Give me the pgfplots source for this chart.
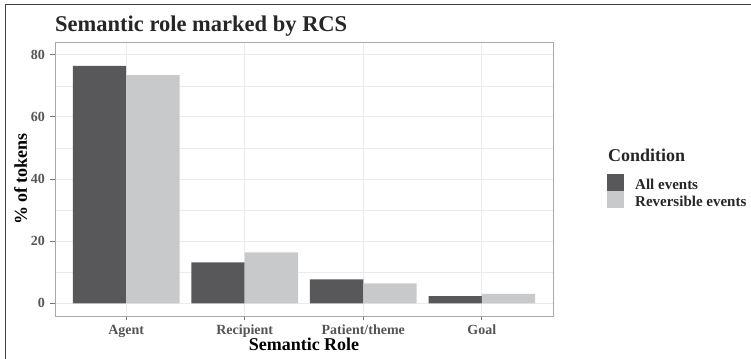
\documentclass[border=0pt]{standalone}
\usepackage{pgfplots}
\pgfplotsset{compat=1.18}
\usepackage{fontspec}
\setmainfont{Liberation Serif}
\definecolor{darkbar}{HTML}{58585A}
\definecolor{lightbar}{HTML}{C8C9CB}
\definecolor{tickgray}{HTML}{555555}
\definecolor{gridgray}{HTML}{EBEBEB}
\definecolor{panelgray}{HTML}{A8A8A8}
\begin{document}
\begin{tikzpicture}
\useasboundingbox (0bp,0bp) rectangle (751bp,359bp);
\draw[line width=1.5bp, color=black!75] (5.5bp,0bp) -- (5.5bp,354.5bp) -- (751bp,354.5bp);
\node[anchor=base west, font=\bfseries\fontsize{22.5bp}{26bp}\selectfont, text=black!85, inner sep=0pt] at (55bp,327bp) {Semantic role marked by RCS};
\node[anchor=base west, font=\bfseries\fontsize{18bp}{21bp}\selectfont, text=black!85, inner sep=0pt] at (608bp,197bp) {Condition};
\begin{axis}[
  at={(55bp,43bp)}, anchor=south west,
  scale only axis, width=498bp, height=274bp,
  xmin=0.4, xmax=4.6, ymin=-4.1, ymax=84.1,
  ybar=0pt, bar width=0.45,
  xtick={1,2,3,4},
  xticklabels={Agent, Recipient, Patient/theme, Goal},
  ytick={0,20,40,60,80},
  minor ytick={10,30,50,70},
  grid=both,
  major grid style={gridgray, line width=0.9bp},
  minor grid style={gridgray, line width=0.5bp},
  axis line style={panelgray, line width=0.8bp},
  tick align=outside,
  major tick length=4.5bp, minor tick length=0pt,
  every tick/.style={color=black!55, line width=0.9bp},
  xtick pos=bottom, ytick pos=left,
  /pgf/number format/assume math mode=true,
  ticklabel style={font=\bfseries\fontsize{14bp}{16bp}\selectfont, text=tickgray},
  yticklabel style={anchor=east, inner sep=0pt, xshift=-5.5bp},
  xticklabel style={anchor=base, inner sep=0pt, yshift=-13.5bp},
  xlabel={Semantic Role},
  ylabel={\% of tokens},
  label style={font=\bfseries\fontsize{18bp}{21bp}\selectfont, text=black},
  xlabel style={at={(axis description cs:0.5,0)}, anchor=base, inner sep=0pt, yshift=-34bp},
  ylabel style={at={(axis description cs:0,0.5)}, anchor=base, inner sep=0pt, yshift=28bp},
  legend style={at={(axis description cs:1.1084,0.5182)}, anchor=north west,
    draw=none, fill=none, inner sep=0pt, row sep=0pt, column sep=11bp,
    font=\bfseries\fontsize{15bp}{17bp}\selectfont, text=black!85,
    nodes={inner sep=0pt, text height=15bp, text depth=2bp}},
  legend cell align=left,
  legend image code/.code={\fill[#1] (0bp,-8.5bp) rectangle (17bp,8.5bp);},
]
\addplot[fill=darkbar, draw=none] coordinates {(1,76.4) (2,13.2) (3,7.7) (4,2.3)};
\addlegendentry{All events}
\addplot[fill=lightbar, draw=none] coordinates {(1,73.4) (2,16.4) (3,6.4) (4,3.0)};
\addlegendentry{Reversible events}
\end{axis}
\end{tikzpicture}
\end{document}
